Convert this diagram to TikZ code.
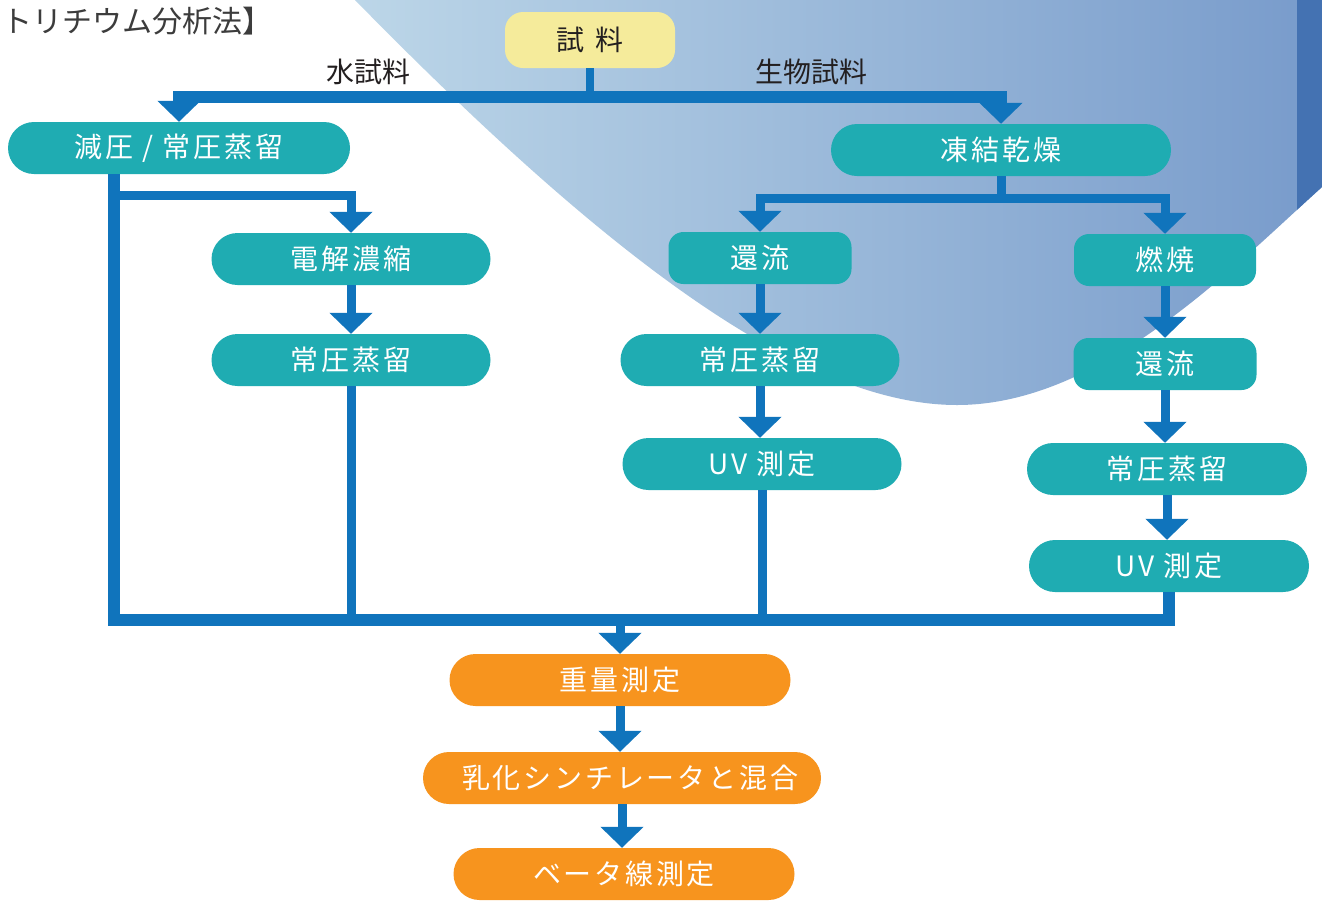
\documentclass[tikz,border=0pt]{standalone}
\usepackage{fontspec}
\setmainfont{Noto Sans CJK JP}
\newfontfamily\boxfont[LetterSpace=10]{Noto Sans CJK JP}
\usetikzlibrary{arrows.meta,calc}
\definecolor{tealbox}{RGB}{31,172,178}
\definecolor{orangebox}{RGB}{247,148,30}
\definecolor{yellowbox}{RGB}{245,235,155}
\definecolor{lineblue}{RGB}{16,116,188}
\definecolor{bgL}{RGB}{188,214,232}
\definecolor{bgR}{RGB}{120,155,203}
\definecolor{stripeblue}{RGB}{68,114,178}
\definecolor{titlegray}{RGB}{60,60,60}
\definecolor{labdark}{RGB}{35,31,32}
\begin{document}
\begin{tikzpicture}[x=1pt,y=-1pt,
  line/.style={draw=lineblue, line width=9pt, line join=miter},
  bus/.style={line, line width=12pt},
  arr/.style={-{Triangle[width=42pt,length=21pt]}},
  box/.style={rectangle, minimum height=52pt, inner sep=0pt, text=white,
    font=\boxfont\fontsize{28}{32}\selectfont},
  tl/.style={box, fill=tealbox, rounded corners=26pt},
  tb/.style={box, fill=tealbox, rounded corners=15pt},
  or/.style={box, fill=orangebox, rounded corners=26pt},
  yel/.style={box, fill=yellowbox, rounded corners=18pt, minimum height=56pt,
    minimum width=170pt, text=labdark},
  lab/.style={text=labdark, font=\fontsize{28}{32}\selectfont, inner sep=0pt},
  ttl/.style={text=titlegray, font=\fontsize{30}{34}\selectfont, inner sep=0pt}
]
\useasboundingbox (0,0) rectangle (1322,900);
\fill[white] (0,0) rectangle (1322,900);
% background
\shade[left color=bgL, right color=bgR] (355,0) .. controls (600,250) and (800,405) .. (957,405)
  .. controls (1100,405) and (1230,270) .. (1322,187) -- (1322,0) -- cycle;
\begin{scope}
\clip (355,0) .. controls (600,250) and (800,405) .. (957,405)
  .. controls (1100,405) and (1230,270) .. (1322,187) -- (1322,0) -- cycle;
\fill[stripeblue] (1297,0) rectangle (1322,300);
\end{scope}

% texts
\node[ttl, anchor=west] (title) at (2,21) {トリチウム分析法】};
\node[lab] (mizu) at (368,72) {水試料};
\node[lab] (seibutsu) at (811,72) {生物試料};

% nodes
\node[yel] (shiryo) at (590,40) {試\hspace{12pt}料};
\node[tl, minimum width=342pt] (genatsu) at (179,148) {減圧 / 常圧蒸留};
\node[tl, minimum width=340pt] (toketsu) at (1001,150) {凍結乾燥};
\node[tl, minimum width=279pt] (denkai) at (351,259) {電解濃縮};
\node[tl, minimum width=279pt] (joL) at (351,360) {常圧蒸留};
\node[tb, minimum width=183pt] (kanC) at (760,258) {還流};
\node[tl, minimum width=279pt] (joC) at (760,360) {常圧蒸留};
\node[tl, minimum width=279pt] (uvC) at (762,464) {UV 測定};
\node[tb, minimum width=182pt] (nensho) at (1165,260) {燃焼};
\node[tb, minimum width=183pt] (kanR) at (1165,364) {還流};
\node[tl, minimum width=280pt] (joR) at (1167,469) {常圧蒸留};
\node[tl, minimum width=280pt] (uvR) at (1169,566) {UV 測定};
\node[or, minimum width=341pt] (jyu) at (620,680) {重量測定};
\node[or, minimum width=398pt] (nyu) at (622,778) {\hspace{16pt}乳化シンチレータと混合};
\node[or, minimum width=341pt] (beta) at (624,874) {ベータ線測定};

% connectors
\coordinate (jTop) at (590,97);
\draw[line, line width=8pt] (shiryo.south) -- (jTop);
\draw[bus, arr] (jTop) -| (genatsu.north);
\draw[bus, arr] (jTop) -| (toketsu.north);

\coordinate (bL) at (114,620);
\coordinate (bR) at (1169,620);
\draw[bus] (genatsu.south -| bL) -- (bL) -- (bR) -- (uvR.south -| bR);
\coordinate (jD) at (114,195);
\draw[line, arr] (jD) -| (denkai.north);
\draw[line, arr] (denkai) -- (joL);
\draw[line] (joL.south) -- (joL.south |- bL);

\path (toketsu.south) ++(0,22) coordinate (jF);
\draw[line] (toketsu.south) -- (jF);
\draw[line, arr] (jF) -| (kanC.north);
\draw[line, arr] (jF) -| (nensho.north);
\draw[line, arr] (kanC) -- (joC);
\draw[line, arr] (joC.south) -- (joC.south |- uvC.north);
\draw[line] (uvC.south) -- (uvC.south |- bL);

\draw[line, arr] (nensho) -- (kanR);
\draw[line, arr] (kanR.south) -- (kanR.south |- joR.north);
\draw[line, arr] (joR.south) -- (joR.south |- uvR.north);

\draw[line, arr] (jyu.north |- bL) -- (jyu.north);
\draw[line, arr] (jyu.south) -- (jyu.south |- nyu.north);
\draw[line, arr] (nyu.south) -- (nyu.south |- beta.north);
\end{tikzpicture}
\end{document}
